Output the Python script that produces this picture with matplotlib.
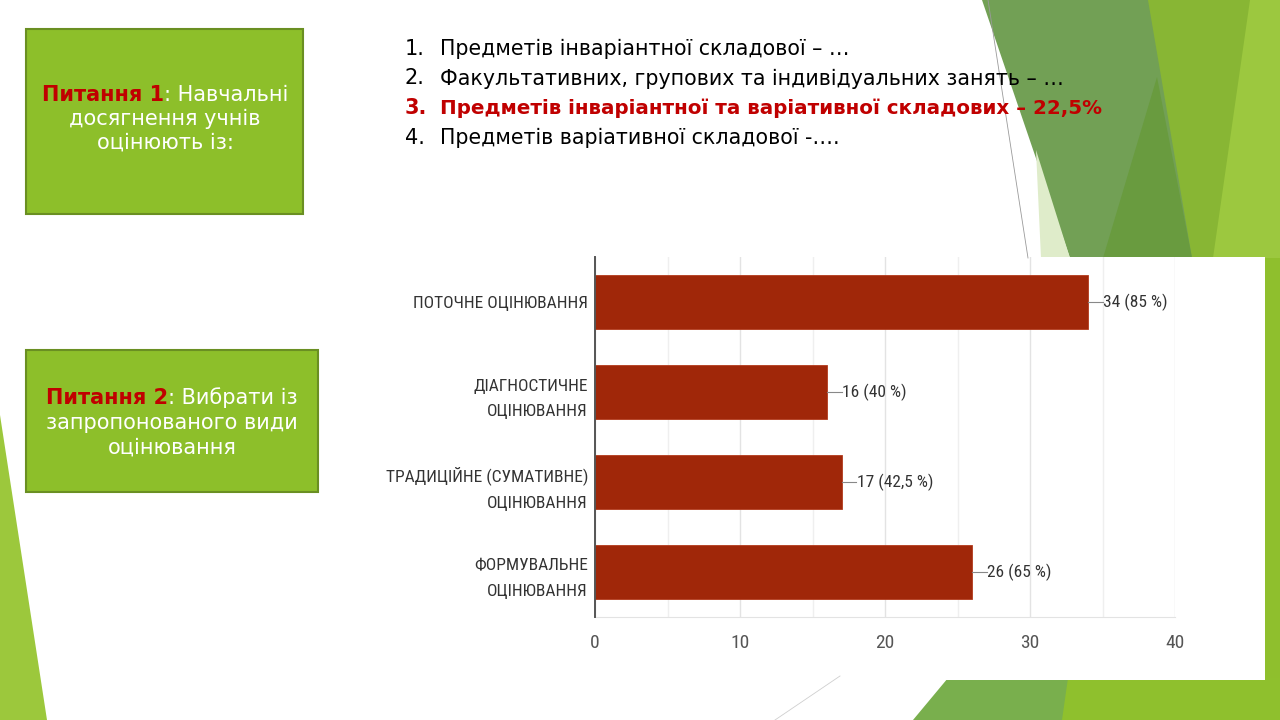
import matplotlib
matplotlib.use("Agg")
import matplotlib.pyplot as plt
from matplotlib import font_manager
from matplotlib.patches import Polygon, Rectangle

# chart data
categories = ["ПОТОЧНЕ ОЦІНЮВАННЯ", "ДІАГНОСТИЧНЕ\nОЦІНЮВАННЯ",
              "ТРАДИЦІЙНЕ (СУМАТИВНЕ)\nОЦІНЮВАННЯ", "ФОРМУВАЛЬНЕ\nОЦІНЮВАННЯ"]
counts = [34, 16, 17, 26]
percents = ["85", "40", "42,5", "65"]
x_ticks = [0, 10, 20, 30, 40]

# slide text
list_items = [
    "Предметів інваріантної складової – …",
    "Факультативних, групових та індивідуальних занять – …",
    "Предметів інваріантної та варіативної складових – 22,5%",
    "Предметів варіативної складової -….",
]
highlight_item = 2
q1_lines = [[("Питання 1", "#c00000", "bold"), (": Навчальні", "white", "normal")],
            [("досягнення учнів", "white", "normal")],
            [("оцінюють із:", "white", "normal")]]
q2_lines = [[("Питання 2", "#c00000", "bold"), (": Вибрати із", "white", "normal")],
            [("запропонованого види", "white", "normal")],
            [("оцінювання", "white", "normal")]]

# pick a narrow face for the chart if one is installed
installed = {f.name for f in font_manager.fontManager.ttflist}
narrow_name = "Roboto"
for cand in ["Roboto Condensed", "Liberation Sans Narrow", "Arial Narrow",
             "DejaVu Sans Condensed", "Open Sans Condensed"]:
    if cand in installed:
        narrow_name = cand
        break
NARROW = [narrow_name, "DejaVu Sans"]
chart_size = 12.5 if narrow_name != "Roboto" else 11.5
tick_size = 14 if narrow_name != "Roboto" else 12.5

fig = plt.figure(figsize=(12.8, 7.2), dpi=100)
fig.patch.set_facecolor("white")

bg = fig.add_axes([0, 0, 1, 1], zorder=0)
bg.set_xlim(0, 1280)
bg.set_ylim(720, 0)
bg.axis("off")

# decorative green shapes
shapes = [
    ([(1148, 0), (1280, 0), (1280, 720), (1062, 720)], "#88b634"),
    ([(1250, 0), (1280, 0), (1280, 258), (1213, 258)], "#9cc83f"),
    ([(1213, 258), (1280, 258), (1280, 720), (1180, 720)], "#8fbf2d"),
    ([(982, 0), (1148, 0), (1192, 258), (1070, 258)], "#72a055"),
    ([(1157, 77), (1192, 258), (1103, 258)], "#699b3f"),
    ([(1036, 150), (1070, 258), (1041, 258)], "#dfecca"),
    ([(913, 720), (948, 678), (1072, 678), (1068, 720)], "#79af4d"),
    ([(1068, 678), (1280, 678), (1280, 720), (1062, 720)], "#8fc02d"),
    ([(0, 415), (47, 720), (0, 720)], "#9cc83c"),
]
for pts, col in shapes:
    bg.add_patch(Polygon(pts, closed=True, facecolor=col, edgecolor="none"))
bg.plot([988, 1028], [0, 258], color="#9a9a9a", lw=0.6)
bg.plot([775, 840], [720, 676], color="#cfcfcf", lw=0.6)

# white panel behind the chart
bg.add_patch(Rectangle((385, 257), 880, 423, facecolor="white", edgecolor="none"))

# question boxes
bg.add_patch(Rectangle((26, 29), 277, 185, facecolor="#8dbf2a", edgecolor="#6a8f22", lw=1.5))
bg.add_patch(Rectangle((26, 350), 292, 142, facecolor="#8dbf2a", edgecolor="#6a8f22", lw=1.5))

fig.canvas.draw()
renderer = fig.canvas.get_renderer()


def centered_line(pieces, cx, y, size):
    widths = []
    texts = []
    for s, c, w in pieces:
        t = bg.text(0, y, s, color=c, fontweight=w, fontsize=size, va="center", ha="left")
        texts.append(t)
        widths.append(t.get_window_extent(renderer).width)
    x = cx - sum(widths) / 2
    for t, w in zip(texts, widths):
        t.set_x(x)
        x += w


for i, line in enumerate(q1_lines):
    centered_line(line, 165, 95 + i * 24, 15)
for i, line in enumerate(q2_lines):
    centered_line(line, 172, 398 + i * 25, 15)

# numbered list
for i, item in enumerate(list_items):
    col = "#c00000" if i == highlight_item else "black"
    w = "bold" if i == highlight_item else "normal"
    y = 49 + i * 29.5
    bg.text(405, y, f"{i + 1}.", color=col, fontweight=w, fontsize=15,
            va="center", ha="left")
    bg.text(440, y, item, color=col, fontweight=w, fontsize=14.8 if i != highlight_item else 14.3,
            va="center", ha="left")

# bar chart
ax = fig.add_axes([595 / 1280, 1 - 617 / 720, 580 / 1280, 360 / 720], zorder=2)
ax.patch.set_alpha(0)
y_pos = list(range(len(categories)))
ax.barh(y_pos, counts, height=0.61, color="#a02709", edgecolor="#b33a1c", lw=0.6, zorder=3)
ax.set_xlim(0, 40)
ax.set_ylim(3.5, -0.5)
ax.set_yticks(y_pos)
ax.set_yticklabels(categories, family=NARROW, fontsize=chart_size, color="#333333", linespacing=1.85)
ax.set_xticks(x_ticks)
ax.set_xticklabels([str(v) for v in x_ticks], family=NARROW, fontsize=tick_size, color="#555555")
ax.set_xticks(range(5, 40, 10), minor=True)
ax.grid(axis="x", which="major", color="#e3e3e3", lw=1, zorder=0)
ax.grid(axis="x", which="minor", color="#efefef", lw=1, zorder=0)
ax.tick_params(axis="both", which="both", length=0)
ax.tick_params(axis="x", pad=12)
ax.tick_params(axis="y", pad=5)
for side in ["top", "right"]:
    ax.spines[side].set_visible(False)
ax.spines["bottom"].set_color("#e3e3e3")
ax.spines["left"].set_color("#555555")
ax.spines["left"].set_linewidth(1.4)
ax.spines["left"].set_zorder(4)

for yb, v, p in zip(y_pos, counts, percents):
    ax.plot([v, v + 1.0], [yb, yb], color="#888888", lw=0.8, zorder=3)
    ax.text(v + 1.05, yb, f"{v} ({p} %)", family=NARROW, fontsize=chart_size,
            color="#333333", va="center", ha="left")

fig.savefig("out.png", dpi=100)
